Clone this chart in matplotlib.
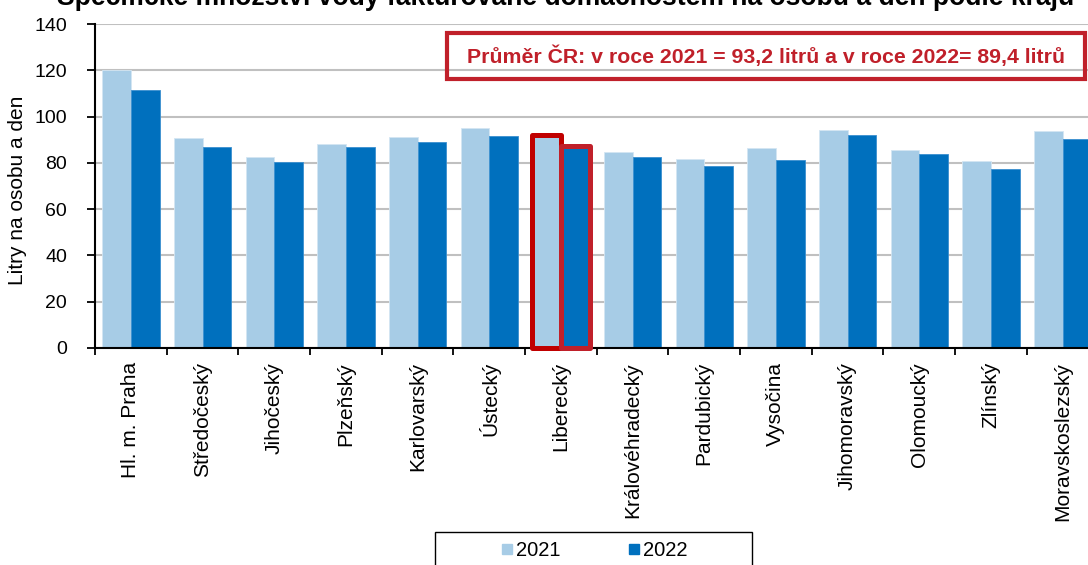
import matplotlib
matplotlib.use("Agg")
import matplotlib.pyplot as plt
from matplotlib import font_manager
from matplotlib.lines import Line2D
from matplotlib.patches import Rectangle
import numpy as np

regions = ["Hl. m. Praha", "Středočeský", "Jihočeský", "Plzeňský", "Karlovarský",
           "Ústecký", "Liberecký", "Královéhradecký", "Pardubický", "Vysočina",
           "Jihomoravský", "Olomoucký", "Zlínský", "Moravskoslezský"]
values_2021 = [120.0, 90.8, 82.7, 88.3, 91.2, 95.1, 91.9, 84.7, 81.8, 86.3, 94.2, 85.4, 81.0, 93.9]
values_2022 = [111.4, 87.0, 80.3, 86.7, 88.9, 91.8, 87.5, 82.4, 78.7, 81.1, 92.2, 83.7, 77.2, 90.5]
series_labels = ["2021", "2022"]
highlight = "Liberecký"
title = "Specifické množství vody fakturované domácnostem na osobu a den podle kraju"
note = "Průměr ČR: v roce 2021 = 93,2 litrů a v roce 2022= 89,4 litrů"
ylabel = "Litry na osobu a den"

names = {f.name for f in font_manager.fontManager.ttflist}
base = "Liberation Sans" if "Liberation Sans" in names else "DejaVu Sans"
plt.rcParams['font.family'] = [base, 'DejaVu Sans']

W, H = 1088, 565
fig = plt.figure(figsize=(W / 100, H / 100), dpi=100)
ax = fig.add_axes([95 / W, 1 - 348 / H, (1098.4 - 95) / W, (348 - 24) / H])

c21 = "#A7CCE6"
c22 = "#0070BE"
x = np.arange(len(regions))
bw = 0.4
ax.bar(x - bw / 2, values_2021, bw, color=c21, edgecolor="#D4E6F3", linewidth=0.6, zorder=2)
ax.bar(x + bw / 2, values_2022, bw, color=c22, edgecolor="#3A8FCF", linewidth=0.6, zorder=2)

hi = regions.index(highlight)
ax.add_patch(Rectangle((hi - bw, 0), bw, values_2021[hi], fill=False,
                       edgecolor="#C00000", linewidth=3.6, zorder=4, clip_on=False,
                       joinstyle="round"))
ax.add_patch(Rectangle((hi, 0), bw, values_2022[hi], fill=False,
                       edgecolor="#C0202A", linewidth=3.6, zorder=4, clip_on=False,
                       joinstyle="round"))

ax.set_xlim(-0.5, len(regions) - 0.5)
ax.set_ylim(0, 140)
ax.set_yticks(np.arange(0, 141, 20))
ax.yaxis.grid(True, color="#C0C0C0", linewidth=1.5, zorder=0)
ax.set_axisbelow(True)
ax.set_xticks(x)
ax.set_xticklabels(regions, rotation=90)
ax.set_xticks(np.arange(-0.5, len(regions), 1), minor=True)
ax.tick_params(axis='x', which='major', length=0, pad=10, labelsize=15)
ax.tick_params(axis='x', which='minor', length=5, width=1.3, direction='out')
ax.tick_params(axis='y', length=6, width=1.3, direction='out', pad=14, labelsize=14)
for s in ["top", "right"]:
    ax.spines[s].set_visible(False)
for s in ["left", "bottom"]:
    ax.spines[s].set_linewidth(1.5)
fig.text(18 / W, 1 - 190 / H, ylabel, rotation=90, ha="center", va="center", fontsize=15)

# title (partly cut at top)
t = fig.text(566 / W, 1 - 5 / H, title, ha="center", va="baseline",
             fontsize=15, fontweight="bold")
fig.canvas.draw()
r = fig.canvas.get_renderer()
tw = t.get_window_extent(r).width
t.set_fontsize(15 * 1022 / tw)

# annotation box
n = fig.text((447 + 1085) / 2 / W, 1 - 56 / H, note, ha="center", va="center",
             fontsize=14, fontweight="bold", color="#C0202A")
fig.canvas.draw()
nw = n.get_window_extent(r).width
n.set_fontsize(14 * 598 / nw)
fig.patches.append(Rectangle((447 / W, 1 - 79 / H), (1085 - 447) / W, (79 - 33) / H,
                             transform=fig.transFigure, fill=False,
                             edgecolor="#C0202A", linewidth=3, zorder=5))

# legend (frame drawn separately, it runs off the bottom edge)
handles = [Line2D([], [], marker="s", linestyle="none", markersize=7.2, color=c21),
           Line2D([], [], marker="s", linestyle="none", markersize=7.2, color=c22)]
leg = fig.legend(handles, series_labels, loc="center left",
                 bbox_to_anchor=(500 / W, 1 - 551 / H), ncol=2, fontsize=14.5,
                 frameon=False, handletextpad=0.1, columnspacing=3.3,
                 borderpad=0, handlelength=0.7, borderaxespad=0)
fig.patches.append(Rectangle((435 / W, -0.05), (752 - 435) / W, 0.05 + (565 - 532) / H,
                             transform=fig.transFigure, fill=False,
                             edgecolor="black", linewidth=1.0))

fig.savefig("out.png", dpi=100)
